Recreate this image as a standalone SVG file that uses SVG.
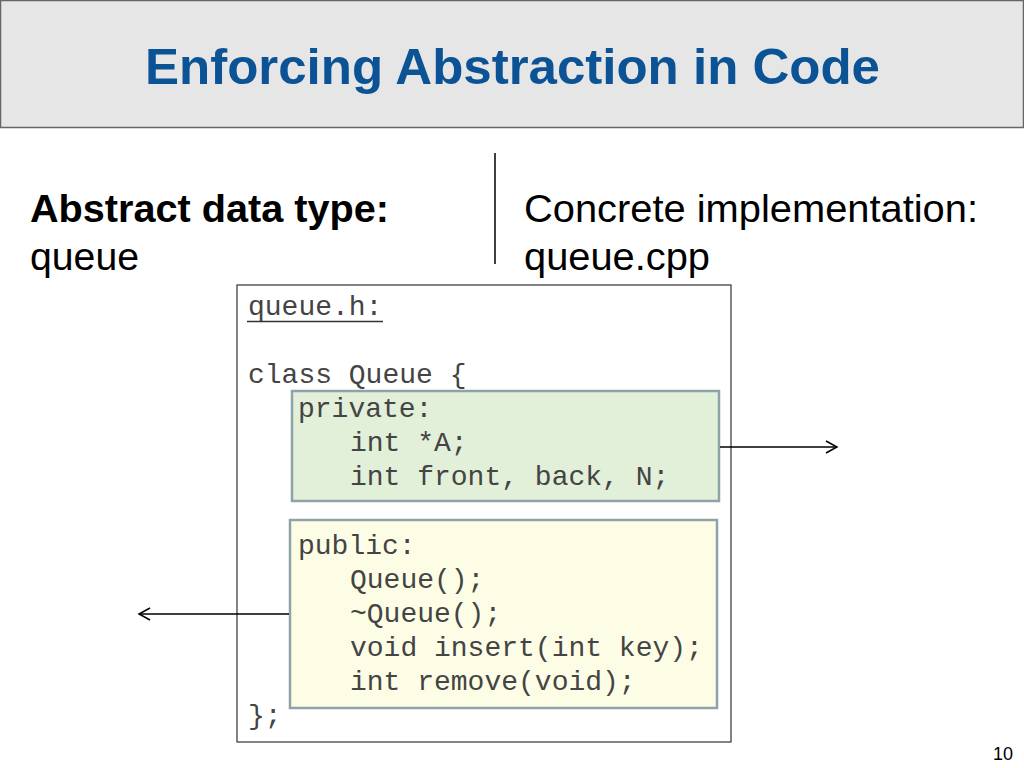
<svg xmlns="http://www.w3.org/2000/svg" width="1024" height="768" viewBox="0 0 1024 768">
<defs>
<style>
.title{font-family:"Liberation Sans",Arial,sans-serif;font-weight:bold;font-size:50px;fill:#0b5394}
.hd{font-family:"Liberation Sans",Arial,sans-serif;font-size:38px;fill:#000}
.code{font-family:"Liberation Mono","Courier New",monospace;font-size:28px;fill:#444}
.conn{stroke:#000;stroke-width:1.5;fill:none}
</style>
<marker id="open" markerWidth="14" markerHeight="14" refX="12" refY="7" orient="auto" markerUnits="userSpaceOnUse">
<path d="M1,1 L12,7 L1,13" fill="none" stroke="#000" stroke-width="1.5"/>
</marker>
</defs>
<rect width="1024" height="768" fill="#fff"/>
<g id="header">
<rect x="0.5" y="0.5" width="1023" height="127" fill="#e6e6e6" stroke="#666" stroke-width="1.5"/>
<text class="title" x="145" y="84" textLength="735" lengthAdjust="spacingAndGlyphs">Enforcing Abstraction in Code</text>
</g>
<g id="left-heading">
<text class="hd" x="30" y="222" font-weight="bold" textLength="359" lengthAdjust="spacingAndGlyphs">Abstract data type:</text>
<text class="hd" x="30" y="270" textLength="109" lengthAdjust="spacingAndGlyphs">queue</text>
</g>
<g id="divider">
<line x1="495" y1="153" x2="495" y2="264" stroke="#000" stroke-width="1.5"/>
</g>
<g id="right-heading">
<text class="hd" x="524" y="222" textLength="454" lengthAdjust="spacingAndGlyphs">Concrete implementation:</text>
<text class="hd" x="524" y="270" textLength="186" lengthAdjust="spacingAndGlyphs">queue.cpp</text>
</g>
<g id="code-box">
<rect x="237" y="285" width="494" height="457" fill="#fff" stroke="#333" stroke-width="1.2"/>
<text class="code" x="248" y="315">queue.h:</text>
<line x1="247" y1="321.5" x2="383" y2="321.5" stroke="#333" stroke-width="1.5"/>
<text class="code" x="248" y="383">class Queue {</text>
<text class="code" x="248" y="724">};</text>
</g>
<g id="private-box">
<rect x="292" y="391" width="427" height="110" fill="#e2efd9" stroke="#8ea3a8" stroke-width="2.5"/>
<text class="code" x="298" y="417">private:</text>
<text class="code" x="350" y="451">int *A;</text>
<text class="code" x="350" y="485">int front, back, N;</text>
</g>
<g id="public-box">
<rect x="290" y="520" width="427" height="188" fill="#fdfde5" stroke="#8ea3a8" stroke-width="2.5"/>
<text class="code" x="298" y="554">public:</text>
<text class="code" x="350" y="588">Queue();</text>
<text class="code" x="350" y="622">~Queue();</text>
<text class="code" x="350" y="656">void insert(int key);</text>
<text class="code" x="350" y="690">int remove(void);</text>
</g>
<g id="connectors">
<line class="conn" x1="720" y1="447" x2="837" y2="447" marker-end="url(#open)"/>
<line class="conn" x1="289" y1="614" x2="139" y2="614" marker-end="url(#open)"/>
</g>
<g id="page-number">
<text x="993" y="760" font-family="'Liberation Sans',Arial,sans-serif" font-size="18" fill="#000">10</text>
</g>
</svg>
